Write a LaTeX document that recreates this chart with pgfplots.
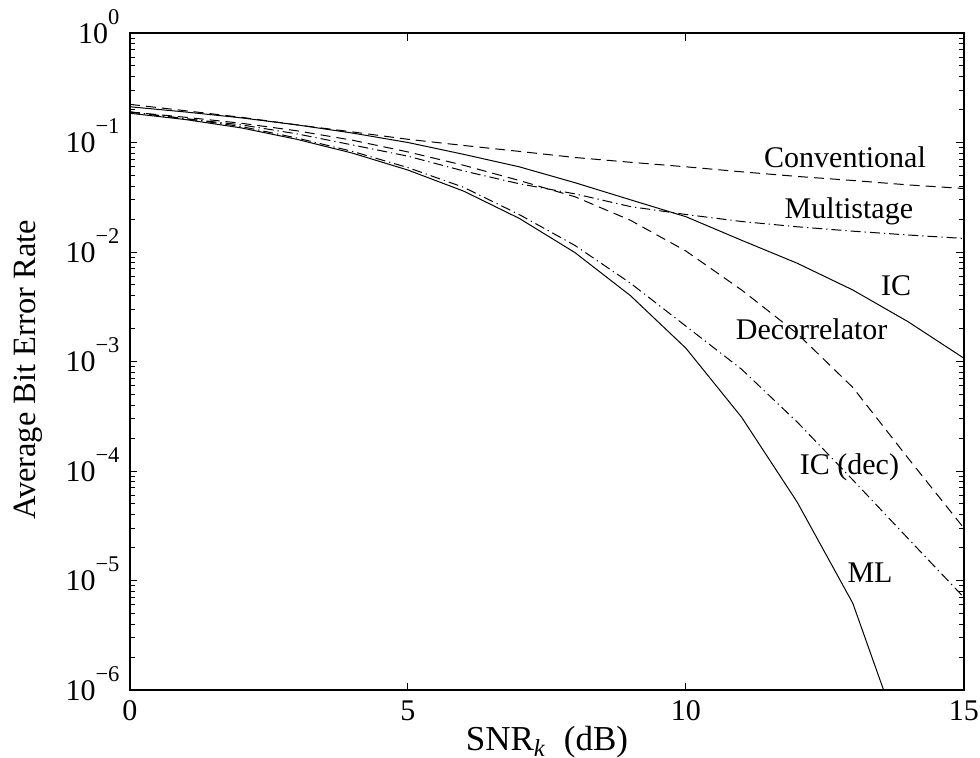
\documentclass[border=0pt]{standalone}
\usepackage{pgfplots}
\pgfplotsset{compat=1.18}
\usepackage{fontspec}
\setmainfont{Liberation Serif}
\newcommand{\ex}[1]{10\raisebox{7.5pt}{\fontsize{9}{9}\selectfont #1}}

\begin{document}
\fontsize{12}{14}\selectfont
\begin{tikzpicture}
\useasboundingbox (-52pt,-27.2pt) rectangle (340pt,276pt);
\begin{axis}[
    at={(0,0)}, anchor=south west,
    scale only axis,
    width=333.6pt, height=262.8pt,
    ymode=log,
    xmin=0, xmax=15,
    ymin=1e-6, ymax=1,
    xtick={0,5,10,15},
    xticklabels={0,5,10,15},
    ytick={1e-6,1e-5,1e-4,1e-3,1e-2,1e-1,1},
    yticklabels={\ex{−6},\ex{−5},\ex{−4},\ex{−3},\ex{−2},\ex{−1},\ex{0}},
    yticklabel style={anchor=base east, yshift=-4pt},
    tick align=inside,
    major tick length=3pt,
    minor tick length=2pt,
    tick style={black, line width=0.4pt},
    axis line style={line width=0.5pt},
    every axis x label/.style={at={(axis description cs:0.5,0)}, yshift=-21pt, anchor=center, font=\fontsize{14}{16}\selectfont},
    every axis y label/.style={at={(axis description cs:-0.122,0.487)}, rotate=90, anchor=center, font=\fontsize{13}{15}\selectfont},
    xlabel={SNR\textsubscript{\textit{k}}\ \ (dB)},
    ylabel={Average Bit Error Rate},
    every axis plot/.append style={black, line width=0.4pt},
]
% Conventional
\addplot[dash pattern=on 4pt off 2.4pt] coordinates {
(0,0.223) (1,0.195) (2,0.17) (3,0.145) (4,0.125) (5,0.107) (6,0.094) (7,0.083)
(8,0.073) (9,0.066) (10,0.06) (11,0.054) (12,0.049) (13,0.045) (14,0.041) (15,0.038)};
% Multistage
\addplot[dash pattern=on 4pt off 1.6pt on 0.5pt off 1.6pt] coordinates {
(0,0.19) (1,0.165) (2,0.145) (3,0.12) (4,0.095) (5,0.075) (6,0.055) (7,0.042)
(8,0.034) (9,0.026) (10,0.022) (11,0.019) (12,0.017) (13,0.0155) (14,0.0143) (15,0.0133)};
% IC
\addplot[solid] coordinates {
(0,0.212) (1,0.19) (2,0.168) (3,0.145) (4,0.122) (5,0.1) (6,0.078) (7,0.06)
(8,0.043) (9,0.030) (10,0.021) (11,0.0128) (12,0.0079) (13,0.0045) (14,0.0023) (15,0.00107)};
% Decorrelator
\addplot[dash pattern=on 4pt off 2.4pt] coordinates {
(0,0.19) (1,0.17) (2,0.15) (3,0.128) (4,0.105) (5,0.082) (6,0.062) (7,0.045)
(8,0.032) (9,0.0195) (10,0.0102) (11,0.0045) (12,0.0018) (13,0.00058) (14,0.00013) (15,0.00003)};
% IC (dec)
\addplot[dash pattern=on 4pt off 1.6pt on 0.5pt off 1.6pt] coordinates {
(0,0.19) (1,0.165) (2,0.14) (3,0.11) (4,0.083) (5,0.059) (6,0.039) (7,0.022)
(8,0.0115) (9,0.0052) (10,0.0021) (11,0.00085) (12,0.00028) (13,0.000083) (14,0.000024) (15,0.000007)};
% ML
\addplot[solid] coordinates {
(0,0.185) (1,0.162) (2,0.136) (3,0.107) (4,0.08) (5,0.056) (6,0.036) (7,0.0203)
(8,0.0099) (9,0.0040) (10,0.00132) (11,0.00031) (12,0.000052) (13,0.0000062) (14,0.00000023)};

\node at (axis cs:12.86,0.0737) {Conventional};
\node at (axis cs:12.93,0.0237) {Multistage};
\node at (axis cs:13.78,0.0049) {IC};
\node at (axis cs:12.26,0.00197) {Decorrelator};
\node at (axis cs:12.94,0.000108) {IC (dec)};
\node at (axis cs:13.31,0.0000118) {ML};
\end{axis}
\end{tikzpicture}
\end{document}
